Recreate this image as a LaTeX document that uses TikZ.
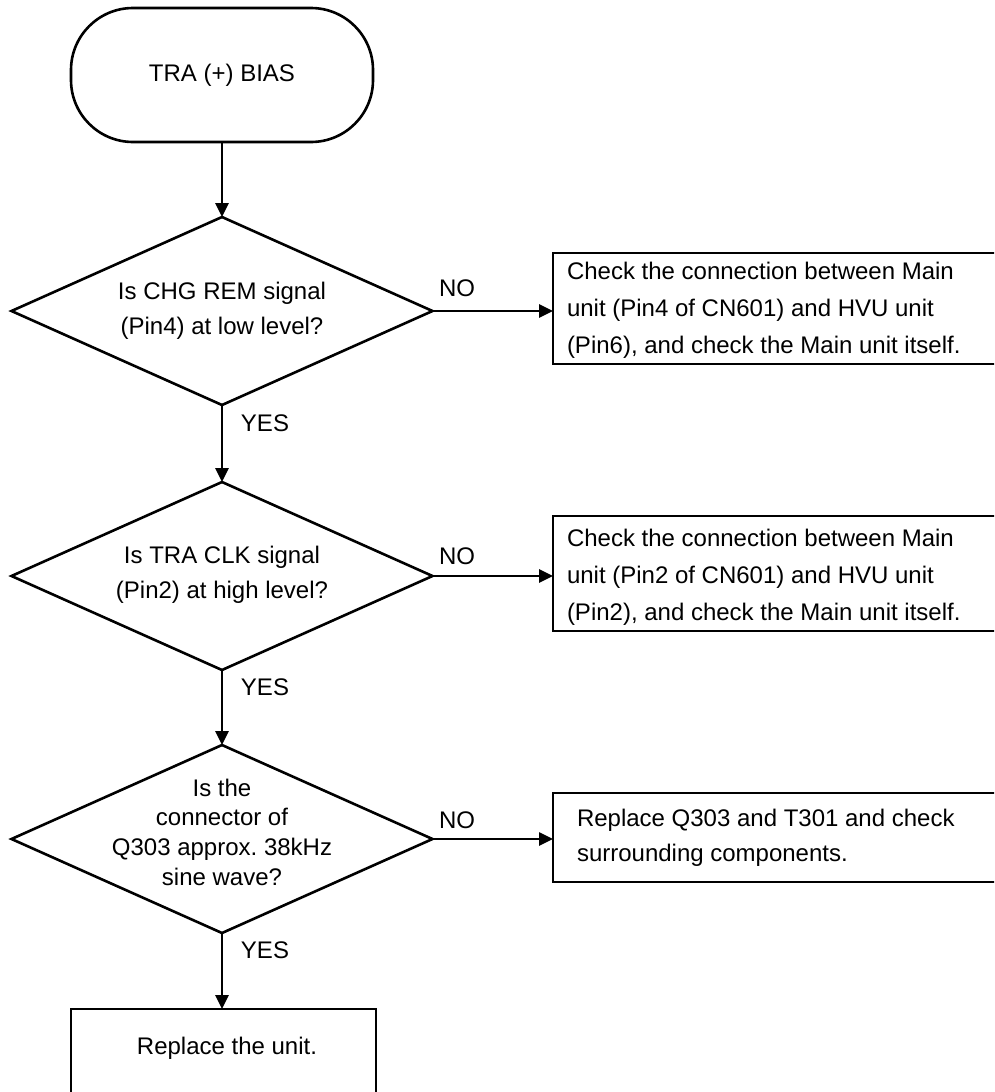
\documentclass[tikz,border=0pt]{standalone}
\usepackage{fontspec}
\setmainfont{Liberation Sans}
\usetikzlibrary{shapes.geometric,arrows.meta}
\begin{document}
\frenchspacing
\begin{tikzpicture}[x=1pt,y=-1pt,
  line width=2.6pt,
  every node/.style={inner sep=0pt,outer sep=0pt},
  txt/.style={font=\fontsize{24}{37}\selectfont},
  dtxt/.style={font=\fontsize{24}{35.5}\selectfont, align=center},
  term/.style={draw, rectangle, rounded corners=62pt, minimum width=302pt, minimum height=134pt},
  dia/.style={draw, diamond, minimum width=421pt, minimum height=188pt},
  box/.style={draw, rectangle, anchor=north west},
  arr/.style={-{Triangle[length=14pt,width=13pt]}},
  lbl/.style={font=\fontsize{24}{28}\selectfont}
]
\useasboundingbox (0,0) rectangle (994,1092);
\clip (0,0) rectangle (994,1092);

% terminal
\node[term] (t) at (222,75) {};
\node[txt] (tt) at (t) {TRA (+) BIAS};

% decisions
\node[dia] (d1) at (222,311) {};
\node[dtxt] (d1t) at (222,311) {Is CHG REM signal\\(Pin4) at low level?};
\node[dia] (d2) at (222,576) {};
\node[dtxt] (d2t) at (222,575) {Is TRA CLK signal\\(Pin2) at high level?};
\node[dia] (d3) at (222,839) {};
\node[dtxt, font=\fontsize{24}{29.7}\selectfont] (d3t) at (222,832) {Is the\\connector of\\Q303 approx. 38kHz\\sine wave?};

% right boxes
\node[box, minimum width=480pt, minimum height=111pt] (b1) at (553,253) {};
\node[txt, anchor=west, align=left] (b1t) at (567,310) {Check the connection between Main\\unit (Pin4 of CN601) and HVU unit\\(Pin6), and check the Main unit itself.};
\node[box, minimum width=480pt, minimum height=115pt] (b2) at (553,516) {};
\node[txt, anchor=west, align=left] (b2t) at (567,577) {Check the connection between Main\\unit (Pin2 of CN601) and HVU unit\\(Pin2), and check the Main unit itself.};
\node[box, minimum width=480pt, minimum height=89pt] (b3) at (553,793) {};
\node[txt, font=\fontsize{24}{35}\selectfont, anchor=west, align=left] (b3t) at (577,838) {Replace Q303 and T301 and check\\surrounding components.};

% bottom box
\node[box, minimum width=305pt, minimum height=130pt] (bb) at (71,1009) {};
\node[txt] (bbt) at (227,1048) {Replace the unit.};

% connectors
\draw[arr] (t.south) -- (d1.north);
\draw[arr] (d1.south) -- (d2.north);
\draw[arr] (d2.south) -- (d3.north);
\draw[arr] (d3.south) -- (d3.south |- bb.north);
\draw[arr] (d1.east) -- (d1.east -| b1.west);
\draw[arr] (d2.east) -- (d2.east -| b2.west);
\draw[arr] (d3.east) -- (d3.east -| b3.west);

% labels
\node[lbl] (n1) at (457,288) {NO};
\node[lbl] (n2) at (457,556) {NO};
\node[lbl] (n3) at (457,820) {NO};
\node[lbl] (y1) at (265,423) {YES};
\node[lbl] (y2) at (265,687) {YES};
\node[lbl] (y3) at (265,950) {YES};
\end{tikzpicture}
\end{document}
